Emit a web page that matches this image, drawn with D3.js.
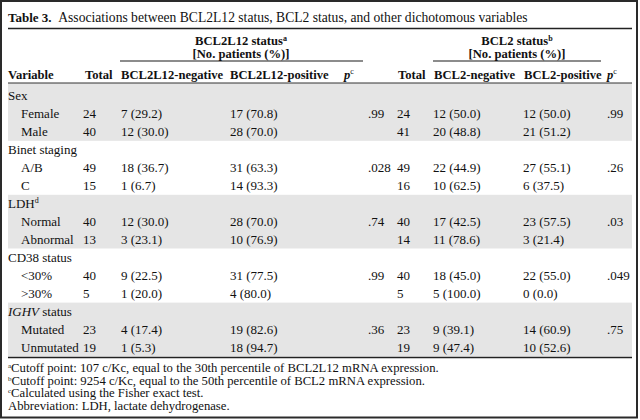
<!DOCTYPE html>
<html>
<head>
<meta charset="utf-8">
<script src="https://cdn.jsdelivr.net/npm/d3@7"></script>
<style>
  html, body { margin: 0; padding: 0; background: #fff; }
  svg { display: block; font-family: "Liberation Serif", "Times New Roman", serif; }
</style>
</head>
<body>
<svg id="chart" width="640" height="420"></svg>
<script>
// ---------- data ----------
const titleBold = "Table 3.";
const titleText = "Associations between BCL2L12 status, BCL2 status, and other dichotomous variables";
const groups = ["Sex", "Binet staging", "LDH", "CD38 status", "IGHV status"];
const groupSup = ["", "", "d", "", ""];
const subcats = ["Female", "Male", "A/B", "C", "Normal", "Abnormal", "<30%", ">30%", "Mutated", "Unmutated"];
const total1 = [24, 40, 49, 15, 40, 13, 40, 5, 23, 19];
const neg1N = [7, 12, 18, 1, 12, 3, 9, 1, 4, 1];
const neg1Pct = [29.2, 30.0, 36.7, 6.7, 30.0, 23.1, 22.5, 20.0, 17.4, 5.3];
const pos1N = [17, 28, 31, 14, 28, 10, 31, 4, 19, 18];
const pos1Pct = [70.8, 70.0, 63.3, 93.3, 70.0, 76.9, 77.5, 80.0, 82.6, 94.7];
const p1 = [".99", ".028", ".74", ".99", ".36"];
const total2 = [24, 41, 49, 16, 40, 14, 40, 5, 23, 19];
const neg2N = [12, 20, 22, 10, 17, 11, 18, 5, 9, 9];
const neg2Pct = [50.0, 48.8, 44.9, 62.5, 42.5, 78.6, 45.0, 100.0, 39.1, 47.4];
const pos2N = [12, 21, 27, 6, 23, 3, 22, 0, 14, 10];
const pos2Pct = [50.0, 51.2, 55.1, 37.5, 57.5, 21.4, 55.0, 0.0, 60.9, 52.6];
const p2 = [".99", ".26", ".03", ".049", ".75"];
const colHeaders = ["Variable", "Total", "BCL2L12-negative", "BCL2L12-positive", "p", "Total", "BCL2-negative", "BCL2-positive", "p"];
const spanHeaders = [["BCL2L12 status", "a"], ["BCL2 status", "b"]];
const spanSub = "[No. patients (%)]";
const footnotes = [
  ["a", "Cutoff point: 107 c/Kc, equal to the 30th percentile of BCL2L12 mRNA expression."],
  ["b", "Cutoff point: 9254 c/Kc, equal to the 50th percentile of BCL2 mRNA expression."],
  ["c", "Calculated using the Fisher exact test."],
  ["", "Abbreviation: LDH, lactate dehydrogenase."]
];

// ---------- layout ----------
const svg = d3.select("#chart");
const L = 8, R = 632;
const fmt = d3.format(".1f");
const cell = (n, p) => `${n} (${fmt(p)})`;

const colKeys = ["var", "t1", "n1", "p1v", "pc1", "t2", "n2", "p2v", "pc2"];
const x = d3.scaleOrdinal().domain(colKeys).range([8, 83, 121, 230, 368, 397, 433, 523, 607]);
const nRows = groups.length * 3;
const y = d3.scaleLinear().domain([0, nRows]).range([87, 356.5]);
const rowH = y(1) - y(0);

// grey bands
svg.append("g").selectAll("rect").data(groups).join("rect")
  .attr("x", L).attr("width", R - L)
  .attr("y", (d, i) => i === 0 ? 83 : y(i * 3))
  .attr("height", (d, i) => y(i * 3 + 3) - (i === 0 ? 83 : y(i * 3)))
  .attr("fill", (d, i) => i % 2 === 0 ? "#e5e5e5" : "#fff");

// frame
svg.append("rect").attr("x", 1).attr("y", 1).attr("width", 636).attr("height", 416.5)
  .attr("fill", "none").attr("stroke", "#2a2a2a").attr("stroke-width", 2);

// title
const t = svg.append("text").attr("x", L).attr("y", 22).attr("font-size", 13.6).attr("fill", "#111");
t.append("tspan").attr("font-weight", "bold").attr("font-size", 13).text(titleBold);
t.append("tspan").attr("dx", 4).text(" " + titleText);

// rules
const line = (x1, x2, yy, w, c) => svg.append("line").attr("x1", x1).attr("x2", x2)
  .attr("y1", yy).attr("y2", yy).attr("stroke", c).attr("stroke-width", w);
line(L, R, 28.5, 1.3, "#222");
line(120, 363, 61, 1.5, "#666");
line(433, 601, 61, 1.5, "#666");
line(L, R, 83, 1, "#333");
line(L, R, 357.5, 1.3, "#222");

// span headers
const spanX = [241, 517];
spanHeaders.forEach((s, i) => {
  const tx = svg.append("text").attr("x", spanX[i]).attr("y", 45).attr("text-anchor", "middle")
    .attr("font-size", 12.6).attr("font-weight", "bold").attr("fill", "#111");
  tx.append("tspan").text(s[0]);
  tx.append("tspan").attr("font-size", 8).attr("dy", -4).text(s[1]);
  svg.append("text").attr("x", spanX[i]).attr("y", 58).attr("text-anchor", "middle")
    .attr("font-size", 12.6).attr("font-weight", "bold").attr("fill", "#111").text(spanSub);
});

// column headers
const hdrX = [8, 85, 121, 230, 344, 398, 434, 524, 607];
colHeaders.forEach((h, i) => {
  const tx = svg.append("text").attr("x", hdrX[i]).attr("y", 79)
    .attr("font-size", 12.6).attr("font-weight", "bold").attr("fill", "#111");
  if (h === "p") {
    tx.append("tspan").attr("font-style", "italic").text("p");
    tx.append("tspan").attr("font-size", 8).attr("dy", -5).attr("font-weight", "normal").text("c");
  } else tx.text(h);
});

// body rows
const body = svg.append("g").attr("font-size", 13).attr("fill", "#111");
const base = i => y(i) + rowH / 2 + 4.5;
groups.forEach((g, gi) => {
  const tx = body.append("text").attr("x", x("var")).attr("y", base(gi * 3));
  if (g.startsWith("IGHV")) {
    tx.append("tspan").attr("font-style", "italic").text("IGHV");
    tx.append("tspan").text(" status");
  } else {
    tx.append("tspan").text(g);
    if (groupSup[gi]) tx.append("tspan").attr("font-size", 8).attr("dy", -5).text(groupSup[gi]);
  }
});
subcats.forEach((s, k) => {
  const gi = Math.floor(k / 2), r = gi * 3 + 1 + (k % 2);
  const yy = base(r);
  body.append("text").attr("x", 21).attr("y", yy).text(s);
  body.append("text").attr("x", x("t1")).attr("y", yy).text(total1[k]);
  body.append("text").attr("x", x("n1")).attr("y", yy).text(cell(neg1N[k], neg1Pct[k]));
  body.append("text").attr("x", x("p1v")).attr("y", yy).text(cell(pos1N[k], pos1Pct[k]));
  body.append("text").attr("x", x("t2")).attr("y", yy).text(total2[k]);
  body.append("text").attr("x", x("n2")).attr("y", yy).text(cell(neg2N[k], neg2Pct[k]));
  body.append("text").attr("x", x("p2v")).attr("y", yy).text(cell(pos2N[k], pos2Pct[k]));
  if (k % 2 === 0) {
    body.append("text").attr("x", x("pc1")).attr("y", yy).text(p1[gi]);
    body.append("text").attr("x", x("pc2")).attr("y", yy).text(p2[gi]);
  }
});

// footnotes
footnotes.forEach((f, i) => {
  const tx = svg.append("text").attr("x", L).attr("y", 372 + i * 12.7)
    .attr("font-size", 12.7).attr("fill", "#111");
  if (f[0]) tx.append("tspan").attr("font-size", 7).attr("dy", -4).text(f[0]);
  tx.append("tspan").attr("dy", f[0] ? 4 : 0).text(f[1]);
});
</script>
</body>
</html>
